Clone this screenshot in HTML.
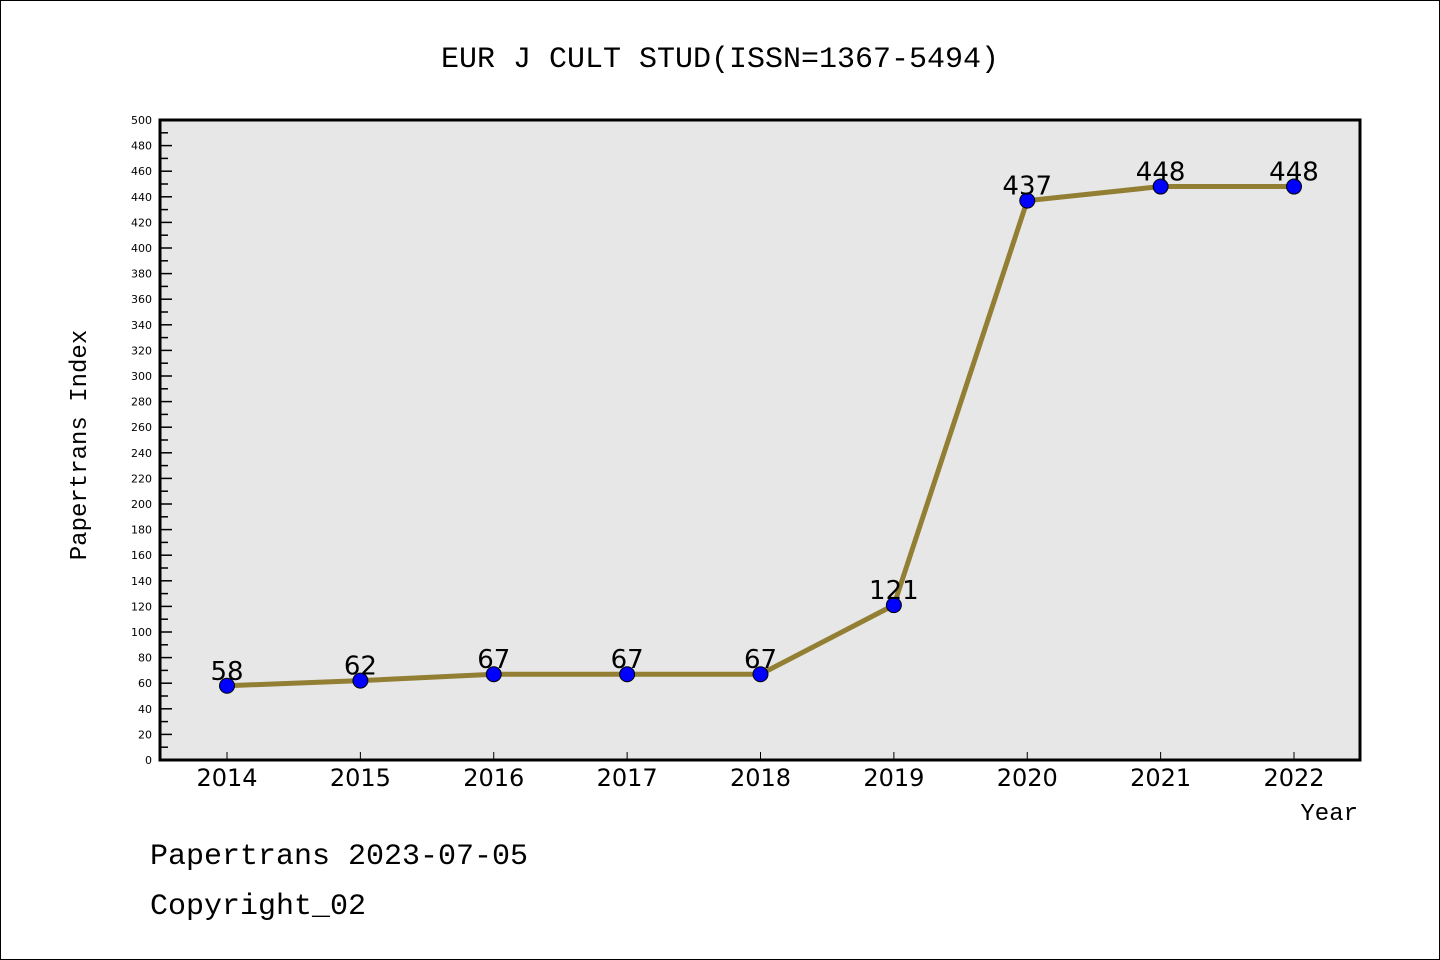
<!DOCTYPE html>
<html><head><meta charset="utf-8"><style>
body{margin:0;background:#fff}
svg{display:block;font-family:"Liberation Mono","DejaVu Sans Mono",monospace}
</style></head><body>
<svg id="c" width="1440" height="960" xmlns="http://www.w3.org/2000/svg">
<rect x="0.5" y="0.5" width="1439" height="959" fill="#fff" stroke="#000"/>
<text x="720" y="67" text-anchor="middle" font-size="30">EUR J CULT STUD(ISSN=1367-5494)</text>
<rect x="160" y="120" width="1200" height="640" fill="#e7e7e7"/>
<g id="axes"></g>
<g id="series"></g>
<rect x="160" y="120" width="1200" height="640" fill="none" stroke="#000" stroke-width="3"/>
<text x="86" y="445" text-anchor="middle" font-size="24" transform="rotate(-90 86 445)">Papertrans Index</text>
<text x="1358" y="820" text-anchor="end" font-size="24">Year</text>
<text x="150" y="864" font-size="30">Papertrans 2023-07-05</text>
<text x="150" y="914" font-size="30">Copyright_02</text>
</svg>
<script>
const years=["2014","2015","2016","2017","2018","2019","2020","2021","2022"];
const values=[58,62,67,67,67,121,437,448,448];
const yMax=500;
const NS="http://www.w3.org/2000/svg";
function X(i){return 227+i*(1294-227)/(years.length-1);}
function Y(v){return 760-v*640/yMax;}
function mk(t,a,p){const e=document.createElementNS(NS,t);for(const k in a)e.setAttribute(k,a[k]);p.appendChild(e);return e;}
const ax=document.getElementById('axes'),se=document.getElementById('series');
for(let v=0;v<=yMax;v+=10){
  const major=v%20===0;
  const l=mk('line',{x1:160,x2:160+(major?12:8),y1:Y(v),y2:Y(v),stroke:'#000','stroke-width':1.5},ax);
  
  
  if(major){const t=mk('text',{x:152,y:Y(v)+4,'text-anchor':'end','font-size':11,'font-family':'DejaVu Sans, sans-serif'},ax);t.textContent=v;
  
  }
}
years.forEach((y,i)=>{
  const l=mk('line',{x1:X(i),x2:X(i),y1:760,y2:752,stroke:'#000','stroke-width':1},ax);
  
  
  const t=mk('text',{x:X(i),y:786,'text-anchor':'middle','font-size':24,'font-family':'DejaVu Sans, sans-serif'},ax);t.textContent=y;
  
  
});
const pl=mk('polyline',{points:values.map((v,i)=>X(i)+','+Y(v)).join(' '),fill:'none',stroke:'#927f33','stroke-width':5},se);


values.forEach((v,i)=>{
  const c=mk('circle',{cx:X(i),cy:Y(v),r:7.5,fill:'#0000ff',stroke:'#000','stroke-width':1},se);
  
  
  const t=mk('text',{x:X(i),y:Y(v)-6,'text-anchor':'middle','font-size':26,'font-family':'DejaVu Sans, sans-serif'},se);t.textContent=v;
  
  
});
</script>
</body></html>
